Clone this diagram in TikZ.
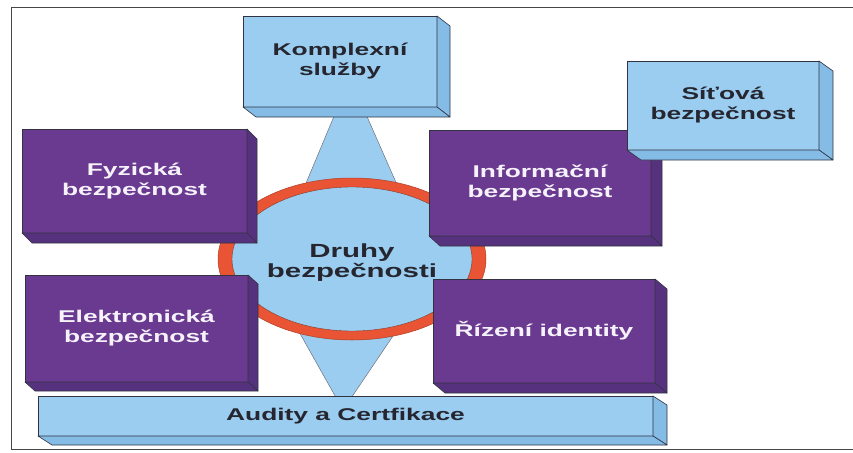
\documentclass[tikz,border=0pt]{standalone}
\usepackage{fontspec}
\setmainfont{Liberation Sans}
\usepackage{graphicx}
\usetikzlibrary{calc}

\definecolor{skyfront}{RGB}{155,205,240}
\definecolor{skyside}{RGB}{132,188,230}
\definecolor{violetfront}{RGB}{106,58,145}
\definecolor{violetside}{RGB}{86,50,126}
\definecolor{edgecol}{RGB}{50,50,65}
\definecolor{ringred}{RGB}{232,84,52}
\definecolor{inkdark}{RGB}{38,38,48}
\definecolor{inkwhite}{RGB}{246,242,250}
\definecolor{framecol}{RGB}{70,70,70}

% text stretched sideways, as in the printed slide
\newcommand\wide[1]{\scalebox{1.55}[1]{#1}}

% right and bottom faces of an extruded slab behind node #1
\newcommand\slabsides[3]{%
  \filldraw[#2] (#1.north east) -- ++#3 -- ($(#1.south east)+#3$) -- (#1.south east) -- cycle;
  \filldraw[#2] (#1.south west) -- (#1.south east) -- ($(#1.south east)+#3$) -- ($(#1.south west)+#3$) -- cycle;
}

\tikzset{
  front/.style={rectangle, inner sep=0pt, outer sep=0pt, draw=edgecol, line width=0.6pt,
    align=center, font=\fontsize{17}{20}\selectfont\bfseries},
  bluefront/.style={front, fill=skyfront, text=inkdark},
  purplefront/.style={front, fill=violetfront, text=inkwhite},
  blueside/.style={fill=skyside, draw=edgecol, line width=0.6pt, line join=round},
  purpleside/.style={fill=violetside, draw=edgecol, line width=0.6pt, line join=round},
  cone/.style={fill=skyfront, draw=edgecol!70, line width=0.5pt, line join=round},
}

\begin{document}
\begin{tikzpicture}[x=1pt, y=-1pt]
\useasboundingbox (0,0) rectangle (853,452);

% page frame
\draw[framecol, line width=0.8pt] (853,7) -- (11,7) -- (11,449) -- (853,449);

% cones joining the hub to the top and bottom slabs
\coordinate (topapex) at (350,78);
\coordinate (botapex) at (343,410);
\coordinate (hubmid) at (352,255);
\filldraw[cone] (topapex) -- ($(hubmid)+(-76,0)$) -- ($(hubmid)+(76,0)$) -- cycle;
\filldraw[cone] (botapex) -- ($(hubmid)+(-99,-5)$) -- ($(hubmid)+(99,-5)$) -- cycle;

% bottom bar
\node[bluefront, minimum width=615pt, minimum height=40pt] (audit) at (345.5,416)
  {\wide{Audity a Certfikace}};
\slabsides{audit}{blueside}{(14,9)}

% central hub with red ring
\coordinate (hub) at (352,259);
\filldraw[fill=ringred, draw=ringred!75!black, line width=0.5pt] (hub) ellipse [x radius=134, y radius=81];
\filldraw[fill=skyfront, draw=ringred!60!black, line width=0.4pt] (hub) ellipse [x radius=120, y radius=72];
\node[align=center, text=inkdark, font=\fontsize{19}{20}\selectfont\bfseries] (druhy) at (352,263)
  {\wide{Druhy}\\\wide{bezpečnosti}};

% top slab
\node[bluefront, minimum width=194pt, minimum height=91pt] (komplex) at (340,61.5)
  {\wide{Komplexní}\\\wide{služby}};
\slabsides{komplex}{blueside}{(13,10)}

% purple slabs round the hub
\node[purplefront, minimum width=225pt, minimum height=104pt] (fyzicka) at (134.5,181)
  {\wide{Fyzická}\\\wide{bezpečnost}};
\slabsides{fyzicka}{purpleside}{(10,10)}

\node[purplefront, minimum width=223pt, minimum height=107pt] (elektro) at (136.5,328.5)
  {\wide{Elektronická}\\\wide{bezpečnost}};
\slabsides{elektro}{purpleside}{(10,9)}

\node[purplefront, minimum width=222pt, minimum height=104pt] (rizeni) at (544,331)
  {\wide{Řízení identity}};
\slabsides{rizeni}{purpleside}{(12,10)}

\node[purplefront, minimum width=222pt, minimum height=106pt] (info) at (540,183)
  {\wide{Informační}\\\wide{bezpečnost}};
\slabsides{info}{purpleside}{(11,10)}

% network slab, lying over the corner of the information slab
\node[bluefront, minimum width=192pt, minimum height=89pt] (sitova) at (723,105.5)
  {\wide{Síťová}\\\wide{bezpečnost}};
\slabsides{sitova}{blueside}{(14,10)}
\end{tikzpicture}
\end{document}
